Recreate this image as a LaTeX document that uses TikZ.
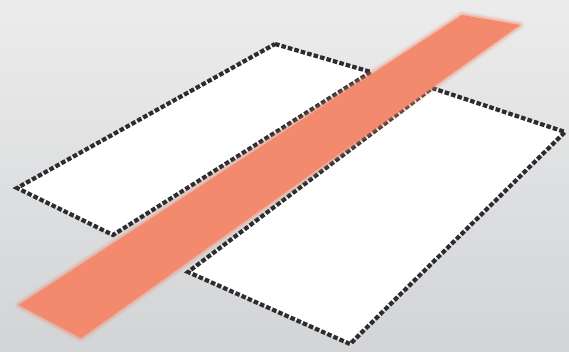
\documentclass[tikz,border=0pt]{standalone}
\usetikzlibrary{calc}
\definecolor{bgtop}{RGB}{236,236,236}
\definecolor{bgmid}{RGB}{244,244,244}
\definecolor{bgbot}{RGB}{210,212,214}
\definecolor{dashgray}{RGB}{45,45,47}
\definecolor{salmon}{RGB}{243,138,110}

\begin{document}
\begin{tikzpicture}[x=1pt,y=-1pt]
	\tikzstyle{plot} = [draw=dashgray, fill=white, line width=4.2pt, dash pattern=on 4.6pt off 2.1pt, line join=miter];
	\tikzstyle{glow} = [draw=salmon, line join=round];
	\tikzstyle{band} = [fill=salmon];
	
	\useasboundingbox (0,0) rectangle (569,351);
	\shade[top color=bgtop, middle color=bgmid, bottom color=bgbot] (0,0) rectangle (569,351);
	
	% left plot
	\coordinate (LT) at (275,44);
	\coordinate (LR) at (371,72);
	\coordinate (LB) at (113,235);
	\coordinate (LL) at (17,188);
	\draw[plot] (LT) -- (LR) -- (LB) -- (LL) -- cycle;
	
	% right plot
	\coordinate (RT) at (432,88);
	\coordinate (RR) at (565,132);
	\coordinate (RB) at (350,344);
	\coordinate (RL) at (188,272);
	\draw[plot] (RT) -- (RR) -- (RB) -- (RL) -- cycle;
	
	% strip across both
	\coordinate (SBL) at (19,305);
	\coordinate (SBR) at (81,338);
	\coordinate (STR) at (520,25);
	\coordinate (STL) at (462,15);
	\foreach \w/\o in {9/0.1, 6/0.18, 3/0.3}
		\draw[glow, line width=\w pt, opacity=\o] (SBL) -- (SBR) -- (STR) -- (STL) -- cycle;
	\fill[band] (SBL) -- (SBR) -- (STR) -- (STL) -- cycle;
	
\end{tikzpicture}
\end{document}
